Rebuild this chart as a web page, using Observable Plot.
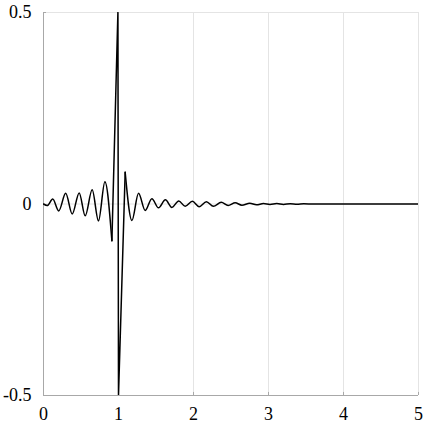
<!DOCTYPE html>
<html>
<head>
<meta charset="utf-8">
<script src="https://cdn.jsdelivr.net/npm/d3@7"></script>
<script src="https://cdn.jsdelivr.net/npm/@observablehq/plot@0.6"></script>
<style>
  html, body { margin: 0; padding: 0; background: #fff; }
  #chart { width: 425px; height: 425px; }
</style>
</head>
<body>
<div id="chart"></div>
<script>
// Oscillation before the singular point (extrema)
const beforeX = [0, 0.05, 0.123, 0.203, 0.296, 0.383, 0.476, 0.556, 0.649, 0.733, 0.819, 0.912];
const beforeY = [0, -0.004, 0.013, -0.018, 0.028, -0.026, 0.029, -0.031, 0.037, -0.044, 0.058, -0.096];

// The spike around x = 1 (drawn straight)
const spikeX = [0.912, 0.992, 1.0, 1.089];
const spikeY = [-0.096, 0.5, -0.5, 0.083];

// Decaying oscillation after the spike
const afterX = [1.089, 1.179, 1.267, 1.356, 1.445, 1.533, 1.625, 1.712, 1.803, 1.889, 1.985, 2.075, 2.172, 2.265, 2.37, 2.462, 2.556, 2.645, 2.75, 2.84, 2.933, 3.02, 3.11, 3.2, 3.29, 3.38, 3.47, 3.6, 5];
const afterY = [0.083, -0.043, 0.028, -0.017, 0.014, -0.010, 0.011, -0.009, 0.008, -0.006, 0.007, -0.007, 0.006, -0.006, 0.0045, -0.004, 0.003, -0.003, 0.002, -0.002, 0.001, -0.0015, 0.001, -0.001, 0.0008, -0.0006, 0.0004, 0, 0];

const xTicks = [0, 1, 2, 3, 4, 5];
const yTicks = [-0.5, 0, 0.5];

const toRows = (xs, ys, seg) => xs.map((x, i) => ({x, y: ys[i], seg}));
const smooth = [...toRows(beforeX, beforeY, "before"), ...toRows(afterX, afterY, "after")];
const spike = toRows(spikeX, spikeY, "spike");

const serif = "Liberation Serif";

const chart = Plot.plot({
  width: 425,
  height: 425,
  marginLeft: 43,
  marginRight: 7,
  marginTop: 12,
  marginBottom: 30,
  style: {fontFamily: serif, fontSize: "18px", background: "#fff", color: "#000"},
  x: {type: "linear", domain: [0, 5]},
  y: {type: "linear", domain: [-0.5, 0.5]},
  marks: [
    Plot.gridX(xTicks, {stroke: "#e4e4e4", strokeOpacity: 1}),
    Plot.gridY(yTicks, {stroke: "#e4e4e4", strokeOpacity: 1}),
    Plot.ruleX([0], {stroke: "#a8a8a8"}),
    Plot.ruleY([-0.5], {stroke: "#a8a8a8"}),
    Plot.ruleX(xTicks.slice(1), {x: d => d, y1: -0.5, y2: -0.492, stroke: "#a8a8a8"}),
    Plot.ruleY([0.5], {y: d => d, x1: 0, x2: 0.04, stroke: "#a8a8a8"}),
    Plot.axisX(xTicks, {tickSize: 0, tickPadding: 12, tickFormat: d => String(d), label: null, fontSize: 18}),
    Plot.axisY(yTicks, {tickSize: 0, tickPadding: 12, tickFormat: d => String(d), label: null, fontSize: 18}),
    Plot.line(smooth, {x: "x", y: "y", z: "seg", curve: "monotone-x", stroke: "#000", strokeWidth: 1.5, clip: true}),
    Plot.line(spike, {x: "x", y: "y", curve: "linear", stroke: "#000", strokeWidth: 1.5, clip: true})
  ]
});
chart.querySelectorAll("text").forEach(t => {
  t.style.fontFamily = "'Liberation Serif', serif";
  t.style.fill = "#000";
});
document.getElementById("chart").appendChild(chart);
</script>
</body>
</html>
